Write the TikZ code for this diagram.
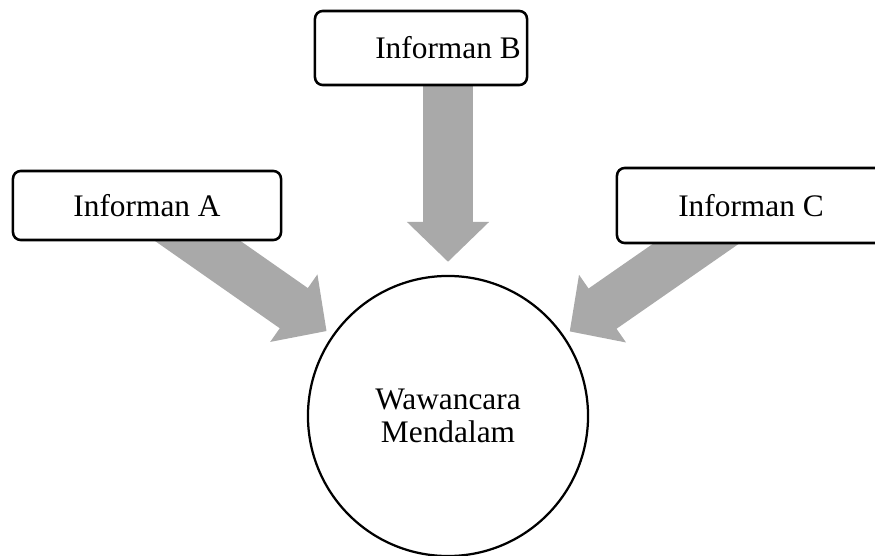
\documentclass[tikz,border=0pt]{standalone}
\usepackage{fontspec}
\setmainfont{Liberation Serif}
\usetikzlibrary{arrows.meta,backgrounds}
\definecolor{arrowgray}{HTML}{A9A9A9}

\begin{document}
\begin{tikzpicture}[x=0.025cm,y=-0.025cm,
  infobox/.style={draw,line width=1.8pt,rounded corners=5.5pt,fill=white,inner sep=0pt},
  bigarrow/.style={arrowgray,line width=1.225cm,-{Triangle[length=1cm,width=2cm]}},
  every node/.style={font=\fontsize{22.3}{23.5}\selectfont}]
  \useasboundingbox (0,0) rectangle (875,556);
  \clip (0,0) rectangle (875,556);
  \node[infobox,minimum width=6.7cm,minimum height=1.725cm] (a) at (147,205.5) {Informan A};
  \node[infobox,minimum width=5.3cm,minimum height=1.85cm] (b) at (421,48) {};
  \node (btext) at (448,48) {Informan B};
  \node[infobox,minimum width=6.7cm,minimum height=1.875cm] (c) at (751,205.5) {Informan C};
  \node[circle,draw,line width=1.6pt,minimum size=7cm,align=center] (w) at (448,416) {Wawancara\\Mendalam};
  \begin{scope}[on background layer]
    \draw[bigarrow,shorten >=0.175cm] (a.center) -- (w);
    \draw[bigarrow,shorten >=0.325cm] (w |- b.center) -- (w.north);
    \draw[bigarrow,shorten >=0.175cm] (c.center) -- (w);
  \end{scope}
\end{tikzpicture}
\end{document}
